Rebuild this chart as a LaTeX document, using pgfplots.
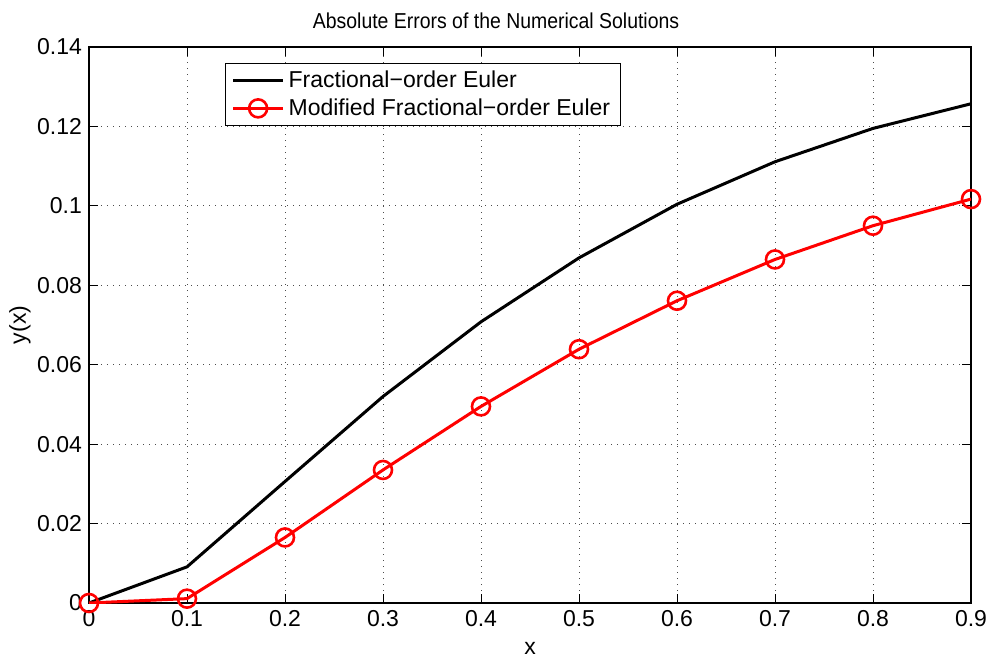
\documentclass[border=0pt]{standalone}
\usepackage{fontspec}
\setmainfont{Liberation Sans}
\usepackage{pgfplots}
\pgfplotsset{compat=1.18}
\usetikzlibrary{calc}

\begin{document}
\begin{tikzpicture}
\begin{axis}[
    scale only axis,
    width=441pt,
    height=278pt,
    xmin=0, xmax=0.9,
    ymin=0, ymax=0.14,
    xtick={0,0.1,0.2,0.3,0.4,0.5,0.6,0.7,0.8,0.9},
    ytick={0,0.02,0.04,0.06,0.08,0.1,0.12,0.14},
    scaled x ticks=false,
    scaled y ticks=false,
    /pgf/number format/.cd, fixed, precision=2, assume math mode=true, /pgfplots/.cd,
    tick label style={font=\fontsize{11.5}{13.8}\selectfont},
    tick align=inside,
    major tick length=4.5pt,
    tick style={black, line width=0.5pt},
    axis line style={line width=0.6pt},
    xmajorgrids, ymajorgrids,
    major grid style={black!70, line width=0.5pt, dash pattern=on 0.6pt off 2.4pt},
    xlabel={x},
    ylabel={y(x)},
    label style={font=\fontsize{11.5}{13.8}\selectfont},
    x label style={at={(axis description cs:0.5,-0.082)}, anchor=center},
    y label style={at={(axis description cs:-0.0782,0.5)}, anchor=center},
    title={Absolute Errors of the Numerical Solutions},
    every axis title shift=0pt,
    title style={font=\fontsize{10.8}{13}\selectfont, xscale=0.9,
        at={(axis description cs:0.4615,1.0336)}, anchor=base},
    legend style={at={(axis description cs:0.1542,0.9707)}, anchor=north west,
        draw=black, line width=0.6pt, font=\fontsize{11.5}{13.8}\selectfont,
        inner xsep=3pt, inner ysep=1.5pt, row sep=0pt},
    legend cell align=left,
    legend image code/.code={%
        \draw[mark repeat=2, mark phase=2] plot coordinates {(0pt,0pt) (12.5pt,0pt) (25pt,0pt)};},
]
\addplot[black, line width=1.5pt] coordinates {
    (0,0) (0.1,0.0091) (0.2,0.0306) (0.3,0.0520) (0.4,0.0708)
    (0.5,0.0869) (0.6,0.1004) (0.7,0.1111) (0.8,0.1195) (0.9,0.1257)
};
\addlegendentry{Fractional−order Euler}
\addplot[red, line width=1.5pt, mark=o, mark size=4.5pt, mark options={line width=1.3pt}] coordinates {
    (0,0) (0.1,0.0011) (0.2,0.0165) (0.3,0.0335) (0.4,0.0495)
    (0.5,0.0639) (0.6,0.0761) (0.7,0.0865) (0.8,0.0950) (0.9,0.1017)
};
\addlegendentry{Modified Fractional−order Euler}
\end{axis}
\pgfresetboundingbox
\path ($(current axis.south west)+(-44.5pt,-26.85pt)$) rectangle ($(current axis.north east)+(8pt,23.5pt)$);
\end{tikzpicture}
\end{document}
